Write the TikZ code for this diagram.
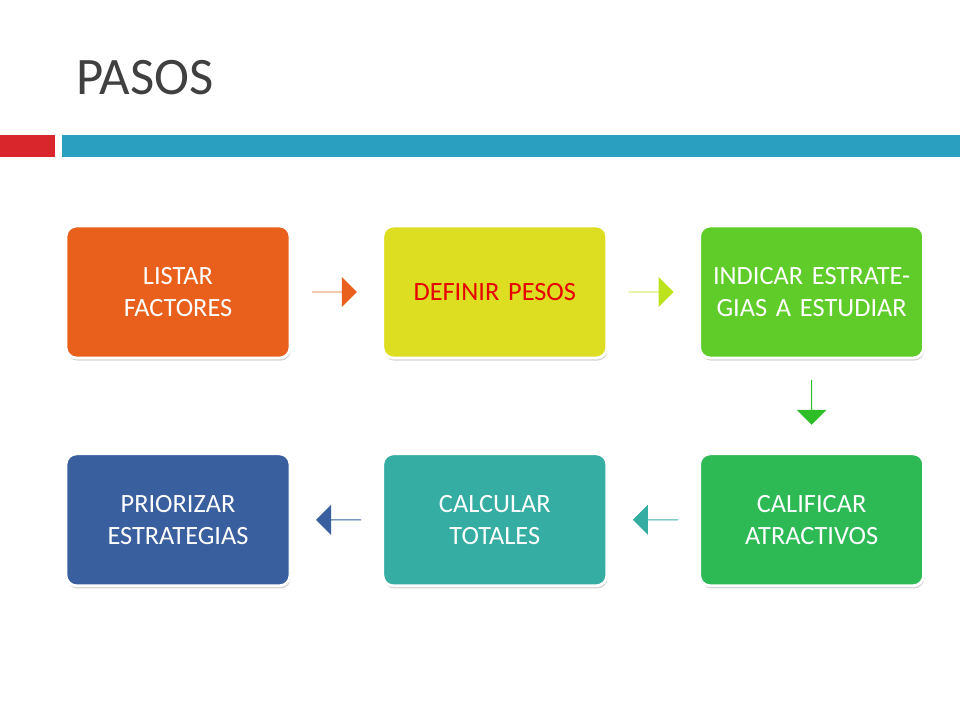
\documentclass[tikz,border=0pt]{standalone}
\usepackage{fontspec}
\setmainfont{Carlito}
\usetikzlibrary{positioning,shapes.arrows,shadows}
\definecolor{titlegray}{RGB}{64,64,64}
\definecolor{barred}{RGB}{217,38,44}
\definecolor{barblue}{RGB}{42,159,192}
\definecolor{stepone}{RGB}{232,96,28}
\definecolor{steptwo}{RGB}{221,221,34}
\definecolor{stepthree}{RGB}{95,204,42}
\definecolor{stepfour}{RGB}{45,186,85}
\definecolor{stepfive}{RGB}{53,173,163}
\definecolor{stepsix}{RGB}{58,95,158}
\definecolor{textred}{RGB}{230,0,0}
\definecolor{arrowdown}{RGB}{45,190,40}

\begin{document}
\begin{tikzpicture}[
        % Node styles
        stepbox/.style={draw=white, line width=1.6pt, rounded corners=6pt, minimum width=4.48cm, minimum height=2.64cm, text width=4.2cm, align=center, text=white, font=\fontsize{15}{18}\selectfont, drop shadow={opacity=0.35, shadow xshift=0.5pt, shadow yshift=-1.5pt}},
        flowarrow/.style={single arrow, minimum height=0.9cm, minimum width=0.6cm, single arrow head extend=0.22cm, inner sep=0pt},
        node distance=1.8cm and 1.8cm
    ]
    \useasboundingbox (0,0) rectangle (19.2,14.4);

    % Title and bars
    \node[anchor=west, text=titlegray, font=\fontsize{30}{34}\selectfont] (title) at (1.4,12.85) {PASOS};
    \fill[barred] (0,11.26) rectangle (1.1,11.7);
    \fill[barblue] (1.24,11.26) rectangle (19.2,11.7);

    % Upper row
    \node[stepbox, fill=stepone] (listar) at (3.56,8.56) {LISTAR\\FACTORES};
    \node[stepbox, fill=steptwo, right=of listar, text=textred] (pesos) {DEFINIR PESOS};
    \node[stepbox, fill=stepthree, right=of pesos] (indicar) {INDICAR ESTRATEGIAS A ESTUDIAR};

    % Lower row
    \node[stepbox, fill=stepfour, below=1.86cm of indicar] (calificar) {CALIFICAR\\ATRACTIVOS};
    \node[stepbox, fill=stepfive, left=of calificar] (totales) {CALCULAR\\TOTALES};
    \node[stepbox, fill=stepsix, left=of totales] (priorizar) {PRIORIZAR\\ESTRATEGIAS};

    % Block arrows
    \node[flowarrow, fill=stepone, right=0.4cm of listar] (arrA) {};
    \node[flowarrow, fill=steptwo!85!green, right=0.4cm of pesos] (arrB) {};
    \node[flowarrow, fill=arrowdown, shape border rotate=270, below=0.4cm of indicar] (arrC) {};
    \node[flowarrow, fill=stepfive, shape border rotate=180, left=0.4cm of calificar] (arrD) {};
    \node[flowarrow, fill=stepsix, shape border rotate=180, left=0.4cm of totales] (arrE) {};

\end{tikzpicture}
\end{document}
